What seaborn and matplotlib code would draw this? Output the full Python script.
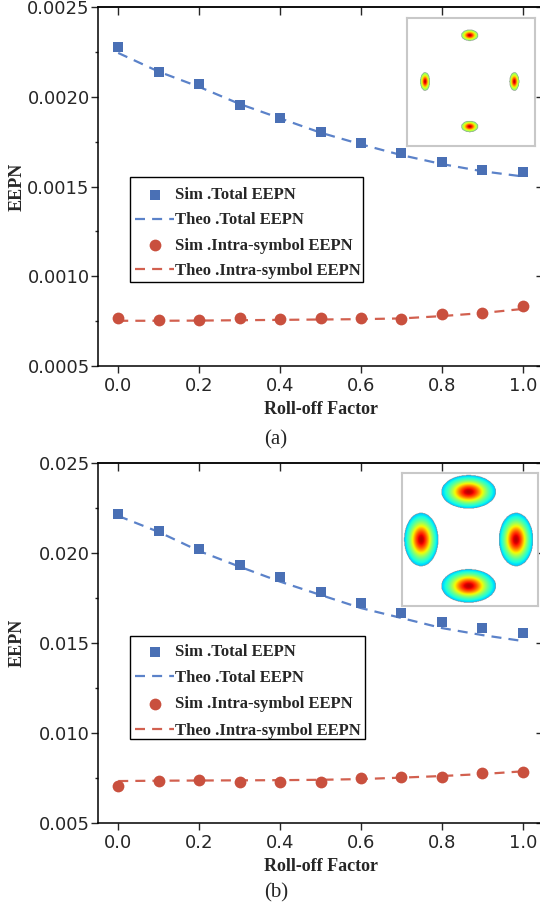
import numpy as np
import pandas as pd
import matplotlib
matplotlib.use("Agg")
import matplotlib.pyplot as plt
from matplotlib.ticker import FormatStrFormatter, MultipleLocator
from matplotlib.patches import Rectangle
import seaborn as sns

# ---------------- data ----------------
roll_off = [0.0, 0.1, 0.2, 0.3, 0.4, 0.5, 0.6, 0.7, 0.8, 0.9, 1.0]

a_sim_total = [0.002278, 0.002139, 0.002072, 0.001956, 0.001883, 0.001806,
               0.001744, 0.001689, 0.001639, 0.001594, 0.001578]
a_theo_total = [0.002244, 0.002140, 0.002055, 0.001960, 0.001880, 0.001800,
                0.001735, 0.001675, 0.001625, 0.001585, 0.001556]
a_sim_intra = [0.000767, 0.000757, 0.000756, 0.000765, 0.000761, 0.000767,
               0.000765, 0.000761, 0.000787, 0.000798, 0.000833]
a_theo_intra = [0.000752, 0.000752, 0.000753, 0.000755, 0.000757, 0.000759,
                0.000761, 0.000765, 0.000778, 0.000795, 0.000818]

b_sim_total = [0.02217, 0.02124, 0.02022, 0.01935, 0.01868, 0.01785,
               0.01720, 0.01665, 0.01618, 0.01582, 0.01557]
b_theo_total = [0.02206, 0.02117, 0.02011, 0.01924, 0.01841, 0.01767,
                0.01694, 0.01639, 0.01583, 0.01544, 0.01511]
b_sim_intra = [0.00707, 0.00732, 0.00739, 0.00726, 0.00729, 0.00726,
               0.00748, 0.00757, 0.00757, 0.00778, 0.00783]
b_theo_intra = [0.00733, 0.00735, 0.00736, 0.00737, 0.00738, 0.00740,
                0.00744, 0.00752, 0.00761, 0.00772, 0.00787]

labels = ["Sim .Total EEPN", "Theo .Total EEPN",
          "Sim .Intra-symbol EEPN", "Theo .Intra-symbol EEPN"]
x_label = "Roll-off Factor"
y_label = "EEPN"
panel_tags = ["(a)", "(b)"]

# ---------------- style ----------------
sns.set_style("ticks")
plt.rcParams["font.family"] = ["DejaVu Sans"]
plt.rcParams["axes.linewidth"] = 1.1

BLUE_M = "#4a70b5"
BLUE_L = "#5b82c9"
RED_M = "#c9503e"
RED_L = "#d2604f"
SERIF = ["Liberation Serif", "DejaVu Serif"]

fig = plt.figure(figsize=(5.40, 9.07), dpi=100)

W = 540.0
H = 907.0
def fig_rect(l, t, r, b):
    return [l / W, 1 - b / H, (r - l) / W, (b - t) / H]

ax_a = fig.add_axes(fig_rect(98, 7, 543, 366))
ax_b = fig.add_axes(fig_rect(98, 463, 543, 823))


def draw_panel(ax, sim_t, theo_t, sim_i, theo_i, ylim, ymaj, fmt,
               leg_y, spacing, box):
    df = pd.DataFrame({"x": roll_off, "st": sim_t, "tt": theo_t,
                       "si": sim_i, "ti": theo_i})
    sns.scatterplot(data=df, x="x", y="st", ax=ax, marker="s", s=60,
                    color=BLUE_M, linewidth=0, label=labels[0], zorder=3)
    sns.lineplot(data=df, x="x", y="tt", ax=ax, color=BLUE_L, lw=1.6,
                 linestyle=(0, (4.5, 3.2)), label=labels[1], zorder=2)
    sns.scatterplot(data=df, x="x", y="si", ax=ax, marker="o", s=72,
                    color=RED_M, linewidth=0, label=labels[2], zorder=3)
    sns.lineplot(data=df, x="x", y="ti", ax=ax, color=RED_L, lw=1.6,
                 linestyle=(0, (4.5, 3.2)), label=labels[3], zorder=2)

    ax.set_xlim(-0.05, 1.05)
    ax.set_ylim(*ylim)
    ax.xaxis.set_major_locator(MultipleLocator(0.2))
    ax.yaxis.set_major_locator(MultipleLocator(ymaj))
    ax.yaxis.set_minor_locator(MultipleLocator(ymaj / 2))
    ax.yaxis.set_major_formatter(FormatStrFormatter(fmt))
    ax.xaxis.set_major_formatter(FormatStrFormatter("%.1f"))

    for s in ax.spines.values():
        s.set_visible(True)
        s.set_color("black")
        s.set_linewidth(1.1)

    ax.tick_params(axis="x", which="major", direction="out", length=5,
                   width=1.0, labelsize=13, pad=3, top=False, bottom=True)
    ax.tick_params(axis="y", which="major", direction="out", length=5,
                   width=1.0, labelsize=13, pad=1)
    ax.tick_params(axis="y", which="minor", direction="out", length=2.5,
                   width=1.0)
    # inward ticks on top and right
    sec_x = ax.secondary_xaxis("top")
    sec_x.xaxis.set_major_locator(MultipleLocator(0.2))
    sec_x.tick_params(direction="in", length=6, width=1.0, labeltop=False)
    sec_y = ax.secondary_yaxis("right")
    sec_y.yaxis.set_major_locator(MultipleLocator(ymaj))
    sec_y.yaxis.set_minor_locator(MultipleLocator(ymaj / 2))
    sec_y.tick_params(which="major", direction="in", length=5, width=1.0,
                      labelright=False)
    sec_y.tick_params(which="minor", direction="in", length=2.5, width=1.0)

    ax.set_xlabel(x_label, family=SERIF, fontweight="bold", fontsize=13,
                  labelpad=4)
    ax.set_ylabel(y_label, family=SERIF, fontweight="bold", fontsize=13)
    ax.yaxis.set_label_coords(-0.163, 0.5)

    leg = ax.legend(loc="upper left", bbox_to_anchor=(0.072, leg_y),
                    borderaxespad=0, frameon=True, fancybox=False,
                    prop={"family": SERIF, "weight": "bold", "size": 12},
                    handlelength=2.35, handletextpad=0.05, borderpad=0.3,
                    labelspacing=spacing)
    leg.get_frame().set_visible(False)
    leg.set_zorder(6)
    x0, y0, x1, y1 = box
    ax.add_patch(Rectangle((x0, y0), x1 - x0, y1 - y0,
                           transform=ax.transAxes, facecolor="white",
                           edgecolor="black", linewidth=1.0, zorder=5))


draw_panel(ax_a, a_sim_total, a_theo_total, a_sim_intra, a_theo_intra,
           (0.0005, 0.0025), 0.0005, "%.4f", 0.5125, 0.56,
           (0.0719, 0.234, 0.5955, 0.5265))
draw_panel(ax_b, b_sim_total, b_theo_total, b_sim_intra, b_theo_intra,
           (0.005, 0.025), 0.005, "%.3f", 0.511, 0.61,
           (0.0719, 0.2333, 0.600, 0.5194))

fig.text(276 / W, 1 - 440 / H, panel_tags[0], family=SERIF, fontsize=15,
         ha="center", va="center")
fig.text(276 / W, 1 - 893 / H, panel_tags[1], family=SERIF, fontsize=15,
         ha="center", va="center")


# ---------------- constellation insets (decorative images) ----------------
def constellation(rect, spread_h, spread_v, edge):
    iax = fig.add_axes(rect)
    n = 260
    gx, gy = np.meshgrid(np.linspace(0, 1, n), np.linspace(0, 1, n))
    field = np.full_like(gx, np.nan)
    centres = [(0.49, 0.86, spread_h), (0.49, 0.15, spread_h),
               (0.14, 0.50, spread_v), (0.84, 0.50, spread_v)]
    for cx, cy, (a, b) in centres:
        q = ((gx - cx) / a) ** 2 + ((gy - cy) / b) ** 2
        val = edge + (0.95 - edge) * np.exp(-2.2 * q)
        inside = q <= 1.0
        field = np.where(inside, val, field)
    iax.imshow(np.ma.masked_invalid(field), cmap="jet", vmin=0, vmax=1,
               origin="lower", extent=[0, 1, 0, 1], interpolation="bilinear",
               aspect="auto")
    iax.set_xticks([])
    iax.set_yticks([])
    for s in iax.spines.values():
        s.set_visible(True)
        s.set_color("#c8c8c8")
        s.set_linewidth(1.5)
    iax.set_facecolor("white")
    return iax


constellation(fig_rect(407, 18, 535, 146), (0.065, 0.042), (0.037, 0.07),
              0.45)
constellation(fig_rect(402, 473, 538, 606), (0.2, 0.125), (0.125, 0.2),
              0.24)

fig.savefig("out.png", dpi=100)
